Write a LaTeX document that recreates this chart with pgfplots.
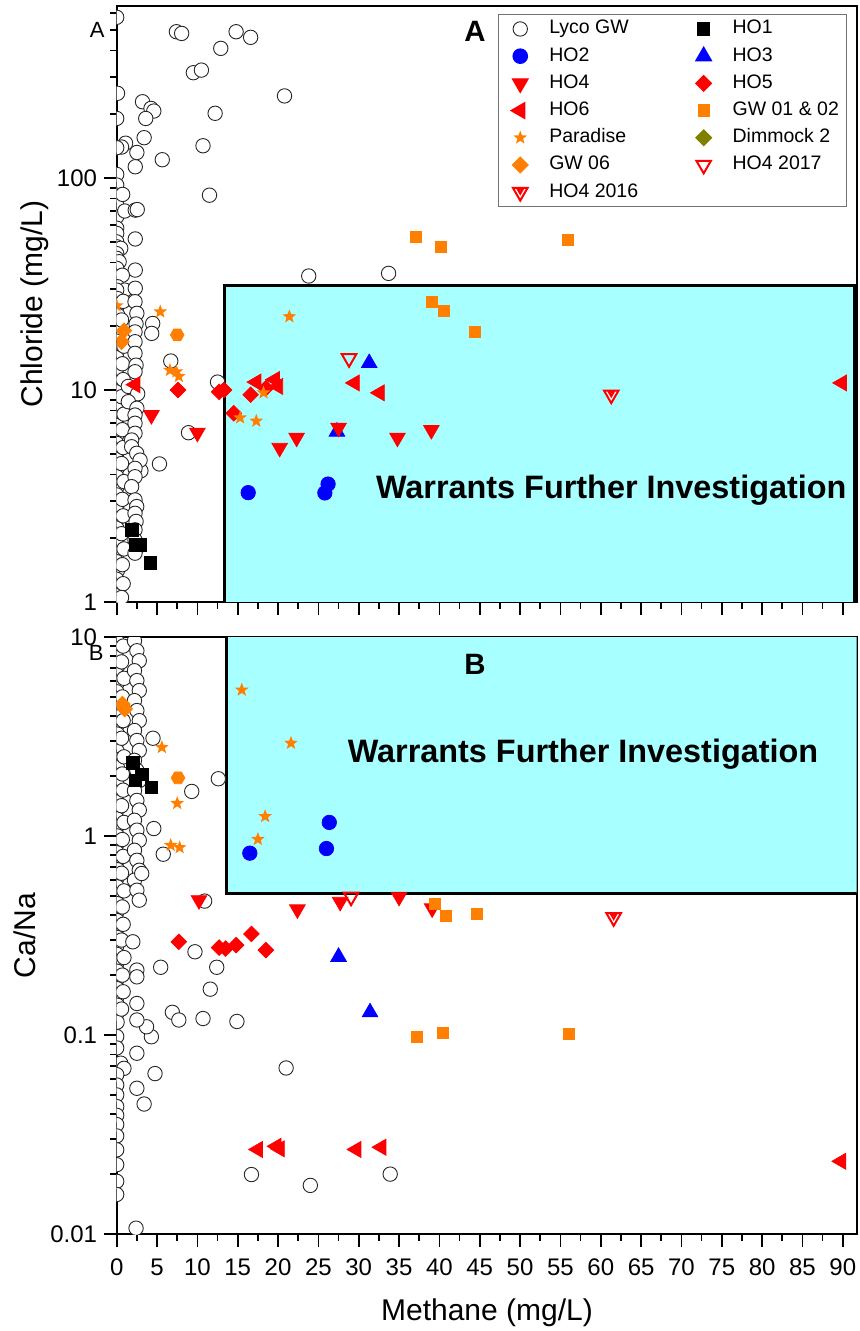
\documentclass[border=0pt]{standalone}
\usepackage{fontspec}
\setmainfont{Liberation Sans}
\usepackage{pgfplots}
\pgfplotsset{compat=1.18}

\definecolor{zonecyan}{RGB}{168,255,255}
\definecolor{hred}{RGB}{255,0,0}
\definecolor{hblue}{RGB}{0,0,255}
\definecolor{gorange}{RGB}{255,128,0}
\definecolor{dolive}{RGB}{128,128,0}

% filled five-point star
\pgfdeclareplotmark{fstar}{%
  \pgfpathmoveto{\pgfpointpolar{90}{\pgfplotmarksize}}%
  \pgfpathlineto{\pgfpointpolar{126}{0.42\pgfplotmarksize}}%
  \pgfpathlineto{\pgfpointpolar{162}{\pgfplotmarksize}}%
  \pgfpathlineto{\pgfpointpolar{198}{0.42\pgfplotmarksize}}%
  \pgfpathlineto{\pgfpointpolar{234}{\pgfplotmarksize}}%
  \pgfpathlineto{\pgfpointpolar{270}{0.42\pgfplotmarksize}}%
  \pgfpathlineto{\pgfpointpolar{306}{\pgfplotmarksize}}%
  \pgfpathlineto{\pgfpointpolar{342}{0.42\pgfplotmarksize}}%
  \pgfpathlineto{\pgfpointpolar{18}{\pgfplotmarksize}}%
  \pgfpathlineto{\pgfpointpolar{54}{0.42\pgfplotmarksize}}%
  \pgfpathclose
  \pgfusepathqfill}
% filled hexagon
\pgfdeclareplotmark{hexagon*}{%
  \pgfpathmoveto{\pgfpointpolar{0}{\pgfplotmarksize}}%
  \pgfpathlineto{\pgfpointpolar{60}{\pgfplotmarksize}}%
  \pgfpathlineto{\pgfpointpolar{120}{\pgfplotmarksize}}%
  \pgfpathlineto{\pgfpointpolar{180}{\pgfplotmarksize}}%
  \pgfpathlineto{\pgfpointpolar{240}{\pgfplotmarksize}}%
  \pgfpathlineto{\pgfpointpolar{300}{\pgfplotmarksize}}%
  \pgfpathclose
  \pgfusepathqfillstroke}
% open down triangle with a small triangle inside
\pgfdeclareplotmark{tridot}{%
  \pgfpathmoveto{\pgfpointpolar{270}{\pgfplotmarksize}}%
  \pgfpathlineto{\pgfpointpolar{30}{\pgfplotmarksize}}%
  \pgfpathlineto{\pgfpointpolar{150}{\pgfplotmarksize}}%
  \pgfpathclose
  \pgfusepathqfillstroke
  \pgfpathmoveto{\pgfpointadd{\pgfpoint{0pt}{0.15\pgfplotmarksize}}{\pgfpointpolar{270}{0.32\pgfplotmarksize}}}%
  \pgfpathlineto{\pgfpointadd{\pgfpoint{0pt}{0.15\pgfplotmarksize}}{\pgfpointpolar{30}{0.32\pgfplotmarksize}}}%
  \pgfpathlineto{\pgfpointadd{\pgfpoint{0pt}{0.15\pgfplotmarksize}}{\pgfpointpolar{150}{0.32\pgfplotmarksize}}}%
  \pgfpathclose
  \pgfusepathqstroke}

\pgfplotsset{
  sptimg/.style={only marks, legend image code/.code={%
      \path[draw=none, fill=none] (-7pt,-5pt) rectangle (7pt,5pt);
      \draw[##1] plot coordinates {(0pt,0pt)};}},
  slyco/.style={sptimg, mark=*, mark size=3.6pt, mark options={fill=white, draw=black!85, line width=0.45pt}},
  shoone/.style={sptimg, mark=square*, mark size=3.1pt, color=black},
  shotwo/.style={sptimg, mark=*, mark size=3.6pt, color=hblue},
  shothree/.style={sptimg, mark=triangle*, mark size=4.5pt, color=hblue},
  shofour/.style={sptimg, mark=triangle*, mark size=4.5pt, color=hred, mark options={rotate=180}},
  shofive/.style={sptimg, mark=square*, mark size=2.75pt, color=hred, mark options={rotate=45}},
  shosix/.style={sptimg, mark=triangle*, mark size=4.6pt, color=hred, mark options={rotate=90}},
  sgwsq/.style={sptimg, mark=square*, mark size=2.75pt, color=gorange},
  spara/.style={sptimg, mark=fstar, mark size=3.6pt, color=gorange},
  sgwsix/.style={sptimg, mark=square*, mark size=2.75pt, color=gorange, mark options={rotate=45}},
  shexo/.style={only marks, mark=hexagon*, mark size=3.4pt, color=gorange},
  shoseven/.style={sptimg, mark=triangle, mark size=4.2pt, color=hred, mark options={rotate=180, fill=white, line width=1pt}},
  shosixteen/.style={sptimg, mark=tridot, mark size=4.2pt, color=hred, mark options={fill=white, line width=1pt}},
}

\begin{document}
\begin{tikzpicture}
\path[use as bounding box] (0pt,0pt) rectangle (429.5pt,-665.5pt);

%---------------- chloride versus methane ----------------
\begin{axis}[at={(58.35pt,-301pt)}, anchor=south west,
  scale only axis, width=369.9pt, height=298pt,
  xmin=0, xmax=91.7, ymode=log, ymin=1, ymax=648,
  clip marker paths=true,
  axis line style={line width=1pt},
  tick align=outside, xtick pos=bottom, ytick pos=left,
  major tick length=6.3pt, minor tick length=3.3pt,
  tick style={black, line width=0.8pt},
  xtick={0,5,10,15,20,25,30,35,40,45,50,55,60,65,70,75,80,85,90},
  minor xtick={2.5,7.5,12.5,17.5,22.5,27.5,32.5,37.5,42.5,47.5,52.5,57.5,62.5,67.5,72.5,77.5,82.5,87.5},
  ticklabel style={font=\fontsize{12}{14}\selectfont},
  xticklabels={},
  ytick={1,10,100}, yticklabels={1,10,100},
  minor ytick={2,3,4,5,6,7,8,9,20,30,40,50,60,70,80,90,200,300,400,500,600},
  legend columns=2, legend cell align=left,
  legend style={at={(rel axis cs:0.9878,0.9866)}, anchor=north east,
    draw=black!55, line width=0.6pt, fill=white,
    font=\fontsize{9.75}{11}\selectfont,
    inner xsep=4pt, inner ysep=2.2pt, column sep=7.5pt, row sep=3.6pt,
    nodes={inner sep=0pt, text height=7pt, text depth=2pt}},
]
\fill[zonecyan] (axis cs:13.3,1) rectangle (axis cs:91.4,31.2);
\draw[line width=1.5pt] (axis cs:13.3,1) -- (axis cs:13.3,31.2) -- (axis cs:91.4,31.2) -- (axis cs:91.4,1);

\addplot[slyco] coordinates {
 (0,573) (7.4,490) (8.05,481) (14.8,490) (16.6,461) (12.9,409) (9.5,314) (10.5,323)
 (20.8,244) (12.2,202) (10.7,142) (11.5,83) (5.65,122) (3.4,155) (3.2,229) (4.25,213)
 (4.6,207) (3.6,191) (2.5,132) (2.3,113) (1.1,146) (0.6,140) (0.1,251) (0,191) (0,139)
 (0,104) (0,92.7) (0,83) (0,74.6) (0,65.7) (0.74,83.7) (1.0,69.9) (2.3,70.6) (2.55,71)
 (0,58) (0,54.8) (2.3,51.6) (0,50) (0,47.4) (0.5,46.6) (0,44) (0,41.8) (0.3,40.3)
 (0,37.5) (2.3,36.8) (0,34.2) (0.7,34.8) (0.1,30.7) (1.0,29.6) (2.3,30.2)
 (23.8,34.5) (33.7,35.5) (4.46,20.6) (4.34,18.5) (6.7,13.7) (12.5,10.9) (8.9,6.29)
 (5.3,4.48) (3.0,4.16) (2.3,0.99)
 (0,29.6) (0.1,27.0) (0,24.6) (0.15,22.5) (0,20.5) (0.05,18.7) (0,17.0) (0.1,15.5)
 (0,14.2) (0.1,12.9) (0,11.8) (0.05,10.7) (0,9.8) (0.1,8.9) (0,8.1) (0.05,7.4) (0,6.8)
 (0.1,6.2) (0,5.6) (0.05,5.1) (0,4.7) (0.1,4.3) (0,3.9) (0.05,3.5) (0,3.2) (0.1,2.9)
 (0,2.7) (0.05,2.45) (0,2.23) (0.1,2.04) (0,1.86) (0.05,1.69) (0,1.55) (0.1,1.41)
 (0,1.28) (0.05,1.17) (0,1.07) (0.1,1.0)
 (0.8,26.2) (0.6,21.4) (0.9,16.1) (0.7,13.3) (0.8,11.2) (0.6,9.3) (0.9,7.7) (0.7,6.5)
 (0.8,5.35) (0.6,4.5) (0.9,3.7) (0.7,3.05) (0.8,2.55) (0.6,2.1) (0.9,1.78) (0.7,1.5)
 (0.8,1.22) (0.6,1.05)
 (2.27,26.1) (2.5,23.0) (2.4,20.5) (2.27,18.8) (2.27,16.9) (2.27,14.9) (2.4,13.1)
 (2.27,12.2) (1.44,10.4) (2.6,9.6) (1.44,8.81) (2.5,8.2) (2.27,7.62) (2.27,6.97)
 (2.27,6.25) (1.85,5.81) (1.85,5.40) (2.48,5.03) (2.9,4.67) (2.27,4.27) (2.27,3.90)
 (1.85,3.50) (2.27,3.03) (2.48,2.82) (2.27,2.62) (2.4,2.4) (2.27,2.19) (2.27,1.96)
 (2.6,1.82) (2.27,1.70)
};
\addlegendentry{\makebox[62.7pt][l]{Lyco GW}}
\addplot[shoone] coordinates {(1.9,2.19) (2.4,1.86) (2.9,1.86) (4.2,1.53)};
\addlegendentry{HO1}
\addplot[shotwo] coordinates {(16.3,3.28) (25.8,3.27) (26.2,3.6)};
\addlegendentry{\makebox[62.7pt][l]{HO2}}
\addplot[shothree] coordinates {(27.3,6.36) (31.3,13.4)};
\addlegendentry{HO3}
\addplot[shofour] coordinates {(4.3,7.62) (10.0,6.29) (20.2,5.34) (22.3,5.96) (27.5,6.64) (34.8,5.96) (39.0,6.48)};
\addlegendentry{\makebox[62.7pt][l]{HO4}}
\addplot[shofive] coordinates {(7.6,10.0) (12.7,9.8) (13.3,10.0) (14.5,7.77) (16.6,9.5) (18.5,10.2)};
\addlegendentry{HO5}
\addplot[shosix] coordinates {(2.3,10.6) (17.3,10.9) (19.6,11.2) (20.0,10.4) (29.5,10.8) (32.6,9.7) (89.9,10.8)};
\addlegendentry{\makebox[62.7pt][l]{HO6}}
\addplot[sgwsq] coordinates {(37.1,52.9) (39.1,26.1) (40.2,47.1) (40.5,23.7) (44.4,18.8) (55.9,51.0)};
\addlegendentry{GW 01 \& 02}
\addplot[spara] coordinates {(0,25) (5.4,23.4) (6.6,12.4) (7.4,12.2) (7.7,11.6) (21.4,22.2) (18.2,9.71) (15.3,7.4) (17.3,7.14)};
\addlegendentry{\makebox[62.7pt][l]{Paradise}}
\addlegendimage{only marks, legend image code/.code={%
    \path[draw=none, fill=none] (-7pt,-5pt) rectangle (7pt,5pt);
    \draw[dolive, mark=square*, mark size=2.75pt, mark options={rotate=45, fill=dolive}] plot coordinates {(0pt,0pt)};}}
\addlegendentry{Dimmock 2}
\addplot[sgwsix] coordinates {(0.9,19.05) (0.6,16.9)};
\addlegendentry{\makebox[62.7pt][l]{GW 06}}
\addplot[shoseven] coordinates {(28.8,14.1)};
\addlegendentry{HO4 2017}
\addplot[shosixteen] coordinates {(61.3,9.5)};
\addlegendentry{\makebox[62.7pt][l]{HO4 2016}}
\addplot[shexo, forget plot] coordinates {(7.5,18.2)};

\node[font=\bfseries\fontsize{16.2}{19}\selectfont, anchor=base] at (axis cs:61.3,3.08) {Warrants Further Investigation};
\node[font=\bfseries\fontsize{14.7}{17}\selectfont, inner sep=0pt] at (axis cs:44.4,490) {A};
\coordinate (tagA) at (axis cs:0,500);
\end{axis}
\node[anchor=east, inner sep=0pt, font=\fontsize{11}{13}\selectfont] at ([xshift=-5.85pt]tagA) {A};

%---------------- Ca/Na versus methane ----------------
\begin{axis}[at={(58.35pt,-617pt)}, anchor=south west,
  scale only axis, width=369.9pt, height=298.5pt,
  xmin=0, xmax=91.7, ymode=log, ymin=0.01, ymax=10,
  clip marker paths=true,
  axis line style={line width=1pt},
  tick align=outside, xtick pos=bottom, ytick pos=left,
  major tick length=6.3pt, minor tick length=3.3pt,
  tick style={black, line width=0.8pt},
  xtick={0,5,10,15,20,25,30,35,40,45,50,55,60,65,70,75,80,85,90},
  minor xtick={2.5,7.5,12.5,17.5,22.5,27.5,32.5,37.5,42.5,47.5,52.5,57.5,62.5,67.5,72.5,77.5,82.5,87.5},
  ticklabel style={font=\fontsize{12}{14}\selectfont},
  xticklabel style={yshift=-2.5pt},
  xticklabels={0,5,10,15,20,25,30,35,40,45,50,55,60,65,70,75,80,85,90},
  ytick={0.01,0.1,1,10}, yticklabels={0.01,0.1,1,10},
  minor ytick={0.02,0.03,0.04,0.05,0.06,0.07,0.08,0.09,0.2,0.3,0.4,0.5,0.6,0.7,0.8,0.9,2,3,4,5,6,7,8,9},
]
\fill[zonecyan] (axis cs:13.55,0.516) rectangle (axis cs:91.7,10);
\draw[line width=1.5pt] (axis cs:13.55,10) -- (axis cs:13.55,0.516) -- (axis cs:91.7,0.516);

\addplot[slyco] coordinates {
 (0,9.57) (0.05,8.67) (0,7.86) (0.1,7.13) (0,6.47) (0.05,5.86) (0,5.31) (0.1,4.82)
 (0,4.37) (0.05,3.96) (0,3.59) (0.1,3.25) (0,2.95) (0.05,2.67) (0,2.42) (0.1,2.20)
 (0,1.99) (0.05,1.81) (0,1.64) (0.1,1.48) (0,1.35) (0.05,1.22) (0,1.11) (0.1,1.00)
 (0,0.908) (0.05,0.824) (0,0.747) (0.1,0.677) (0,0.614) (0.05,0.556) (0,0.505)
 (0.1,0.457) (0,0.415) (0.05,0.376) (0,0.341) (0.1,0.309) (0,0.280) (0.05,0.254)
 (0,0.230) (0.1,0.209) (0,0.189) (0.05,0.171) (0,0.155) (0.1,0.141) (0,0.128) (0.05,0.116)
 (0,0.0983) (0,0.0861) (0.5,0.0722) (0.9,0.068) (0,0.0632) (0,0.0561) (0,0.0500)
 (0,0.0437) (0,0.0395) (0,0.0355) (0,0.0311) (0,0.0265) (0,0.0223) (0,0.0184) (0,0.0158)
 (0.8,9.0) (0.6,7.5) (0.9,6.2) (0.7,5.0) (0.8,3.8) (0.6,3.1) (0.9,2.5) (0.7,2.05)
 (0.8,1.7) (0.6,1.42) (0.9,1.17) (0.7,0.96) (0.8,0.79) (0.6,0.65) (0.9,0.53) (0.7,0.44)
 (0.8,0.36) (0.6,0.30) (0.9,0.245) (0.7,0.2) (0.8,0.165) (0.6,0.135)
 (2.2,9.57) (2.5,8.53) (2.8,7.60) (2.2,6.77) (2.5,6.04) (2.8,5.38) (2.2,4.79) (2.5,4.27)
 (2.8,3.80) (2.2,3.39) (2.5,3.02) (2.8,2.69) (2.2,2.40) (2.5,2.14) (2.8,1.90) (2.2,1.69)
 (2.5,1.51) (2.8,1.35) (2.2,1.20) (2.5,1.07) (2.8,0.952) (2.2,0.848) (2.5,0.755)
 (2.8,0.673) (2.2,0.600) (2.5,0.534) (2.8,0.476)
 (4.5,3.1) (12.6,1.94) (9.3,1.675) (4.6,1.09) (5.77,0.81) (3.1,0.648)
 (16.7,0.0199) (24.0,0.01755) (33.9,0.0200) (21.0,0.0683) (14.9,0.117) (10.7,0.121)
 (6.9,0.130) (7.7,0.119) (11.6,0.170) (12.4,0.219) (9.7,0.262) (5.45,0.219) (10.9,0.471)
 (4.75,0.064) (3.4,0.045) (4.3,0.098) (3.7,0.110) (2.5,0.081) (2.5,0.054) (2.4,0.0107)
 (2.5,0.119) (2.0,0.294) (2.5,0.212) (2.5,0.196) (2.5,0.144)
};
\addplot[shoone] coordinates {(2.0,2.33) (3.1,2.04) (2.3,1.90) (4.3,1.76)};
\addplot[shotwo] coordinates {(16.5,0.82) (26.0,0.865) (26.35,1.17)};
\addplot[shothree] coordinates {(27.5,0.247) (31.4,0.130)};
\addplot[shofour] coordinates {(10.2,0.476) (22.4,0.428) (27.7,0.467) (35.0,0.495) (39.1,0.433)};
\addplot[shofive] coordinates {(7.7,0.294) (12.7,0.275) (13.5,0.272) (14.8,0.283) (16.7,0.322) (18.5,0.267)};
\addplot[shosix] coordinates {(17.5,0.0266) (19.8,0.0276) (20.2,0.0268) (29.7,0.0266) (32.8,0.0273) (89.8,0.0232)};
\addplot[sgwsq] coordinates {(37.2,0.098) (39.4,0.455) (40.4,0.1025) (40.8,0.396) (44.7,0.405) (56.0,0.101)};
\addplot[spara] coordinates {(15.5,5.42) (21.6,2.93) (5.6,2.79) (7.5,1.46) (18.4,1.255) (17.5,0.963) (6.7,0.898) (7.8,0.875)};
\addplot[sgwsix] coordinates {(0.7,4.6) (1.0,4.35)};
\addplot[shoseven] coordinates {(29.05,0.495)};
\addplot[shosixteen] coordinates {(61.6,0.39)};
\addplot[shexo] coordinates {(7.6,1.96)};

\node[font=\bfseries\fontsize{16.2}{19}\selectfont, anchor=base] at (axis cs:57.8,2.35) {Warrants Further Investigation};
\node[font=\bfseries\fontsize{14.7}{17}\selectfont, inner sep=0pt] at (axis cs:44.4,7.31) {B};
\coordinate (tagB) at (axis cs:0,8.36);
\end{axis}
\node[anchor=east, inner sep=0pt, font=\fontsize{11}{13}\selectfont] at ([xshift=-6.35pt]tagB) {B};

% axis titles
\node[rotate=90, anchor=base, font=\fontsize{15}{18}\selectfont] at (21pt,-152pt) {Chloride (mg/L)};
\node[rotate=90, anchor=base, font=\fontsize{15}{18}\selectfont] at (17.5pt,-467.75pt) {Ca/Na};
\node[anchor=base, font=\fontsize{15}{18}\selectfont] at (243.5pt,-660pt) {Methane (mg/L)};
\end{tikzpicture}
\end{document}
